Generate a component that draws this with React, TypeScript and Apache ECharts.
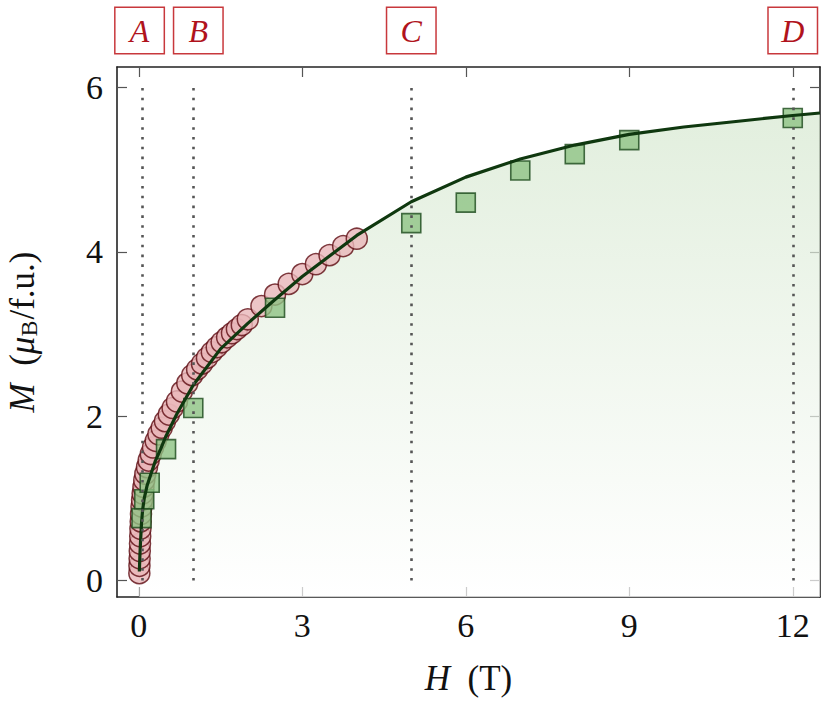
import React, { useEffect, useRef } from "react";
import * as echarts from "echarts";

// ---- data ----
const H_LINE = [0.01, 0.02, 0.03, 0.05, 0.07, 0.1, 0.15, 0.2, 0.3, 0.4, 0.5, 0.7, 1, 1.5, 2, 2.5, 3, 4, 5, 6, 7, 8, 9, 10, 11, 12, 12.5];
const M_LINE = [0.11, 0.3, 0.45, 0.7, 0.86, 1.0, 1.15, 1.25, 1.45, 1.6, 1.76, 2.03, 2.38, 2.82, 3.13, 3.42, 3.7, 4.2, 4.61, 4.91, 5.13, 5.3, 5.43, 5.52, 5.59, 5.66, 5.69];

const H_CIRCLE = [0.01, 0.012, 0.015, 0.018, 0.022, 0.026, 0.03, 0.035, 0.04, 0.05, 0.06, 0.07, 0.085, 0.1, 0.12, 0.15, 0.18, 0.22, 0.26, 0.31, 0.36, 0.42, 0.48, 0.55, 0.62, 0.7, 0.79, 0.89, 0.98, 1.07, 1.16, 1.25, 1.34, 1.43, 1.52, 1.62, 1.71, 1.8, 1.89, 2.0, 2.25, 2.5, 2.75, 3.0, 3.25, 3.5, 3.75, 4.0];
const M_CIRCLE = [0.09, 0.18, 0.27, 0.36, 0.45, 0.54, 0.63, 0.72, 0.81, 0.9, 0.98, 1.06, 1.14, 1.22, 1.3, 1.38, 1.46, 1.54, 1.62, 1.7, 1.78, 1.86, 1.94, 2.02, 2.1, 2.18, 2.3, 2.4, 2.5, 2.57, 2.64, 2.71, 2.78, 2.84, 2.9, 2.96, 3.01, 3.06, 3.11, 3.18, 3.34, 3.48, 3.61, 3.73, 3.85, 3.96, 4.07, 4.16];

const H_SQUARE = [0.05, 0.1, 0.2, 0.5, 1, 2.5, 5, 6, 7, 8, 9, 12];
const M_SQUARE = [0.76, 0.99, 1.19, 1.6, 2.1, 3.32, 4.35, 4.6, 4.99, 5.19, 5.36, 5.63];

const MARKER_NAMES = ["A", "B", "C", "D"];
const MARKER_H = [0.06, 1, 5, 12];
const MARKER_M_RANGE = [0, 6];

const X_TICKS = [0, 3, 6, 9, 12];
const Y_TICKS = [0, 2, 4, 6];
const X_RANGE = [-0.4, 12.5];
const Y_RANGE = [-0.2, 6.25];

const FONT = "'Liberation Serif', 'DejaVu Serif', serif";
const LABEL_SHIFT = [-2.5, 5, 0, 0];

export default function App() {
  const ref = useRef<HTMLDivElement>(null);
  useEffect(() => {
    if (!ref.current) return;
    const chart = echarts.init(ref.current, null, { renderer: "svg" });
    const zip = (a: number[], b: number[]) => a.map((v, i) => [v, b[i]]);
    const lineData = zip(H_LINE, M_LINE);

    const axisLine = { show: true, onZero: false, lineStyle: { color: "#222", width: 1.6 } };
    const tick = { show: true, inside: true, length: 10, lineStyle: { color: "#555", width: 1.2 } };

    const markData = MARKER_H.map((h, i) => [
      { coord: [h, MARKER_M_RANGE[0]] },
      {
        coord: [h, MARKER_M_RANGE[1]],
        label: {
          show: true,
          position: "end",
          formatter: MARKER_NAMES[i],
          offset: [LABEL_SHIFT[i], 0],
        },
      },
    ]);

    chart.setOption({
      animation: false,
      backgroundColor: "#fff",
      grid: { left: 117, right: 10, top: 67, bottom: 106, containLabel: false, outerBoundsMode: "none" },
      xAxis: [
        {
          type: "value",
          min: X_RANGE[0],
          max: X_RANGE[1],
          name: "{i|H}  (T)",
          nameLocation: "middle",
          nameGap: 64,
          nameTextStyle: {
            fontFamily: FONT,
            fontSize: 35,
            color: "#111",
            rich: { i: { fontFamily: FONT, fontSize: 35, fontStyle: "italic", color: "#111" } },
          },
          axisLine,
          axisTick: { ...tick, customValues: X_TICKS },
          axisLabel: {
            customValues: X_TICKS,
            fontFamily: FONT,
            fontSize: 34,
            color: "#111",
            margin: 11,
          },
          splitLine: { show: false },
        },
        {
          type: "value",
          position: "top",
          min: X_RANGE[0],
          max: X_RANGE[1],
          axisLine,
          axisTick: { ...tick, customValues: X_TICKS },
          axisLabel: { show: false },
          splitLine: { show: false },
        },
      ],
      yAxis: [
        {
          type: "value",
          min: Y_RANGE[0],
          max: Y_RANGE[1],
          name: "{i|M}  ({i|μ}{s|B}/f.u.)",
          nameLocation: "middle",
          nameGap: 76,
          nameRotate: 90,
          nameTextStyle: {
            fontFamily: FONT,
            fontSize: 35,
            color: "#111",
            rich: {
              i: { fontFamily: FONT, fontSize: 35, fontStyle: "italic", color: "#111" },
              s: { fontFamily: FONT, fontSize: 24, color: "#111", padding: [14, 1, 0, 0] },
            },
          },
          axisLine,
          axisTick: { ...tick, customValues: Y_TICKS },
          axisLabel: {
            customValues: Y_TICKS,
            fontFamily: FONT,
            fontSize: 34,
            color: "#111",
            margin: 14,
          },
          splitLine: { show: false },
        },
        {
          type: "value",
          position: "right",
          min: Y_RANGE[0],
          max: Y_RANGE[1],
          axisLine,
          axisTick: { ...tick, customValues: Y_TICKS },
          axisLabel: { show: false },
          splitLine: { show: false },
        },
      ],
      series: [
        {
          name: "area",
          type: "line",
          data: lineData,
          showSymbol: false,
          symbol: "none",
          lineStyle: { width: 0, opacity: 0 },
          z: 1,
          areaStyle: {
            origin: "start",
            color: new echarts.graphic.LinearGradient(0, 0, 0, 1, [
              { offset: 0, color: "#d6e8d0" },
              { offset: 1, color: "#ffffff" },
            ]),
          },
        },
        {
          name: "circles",
          type: "scatter",
          data: zip(H_CIRCLE, M_CIRCLE),
          symbol: "circle",
          symbolSize: 21,
          z: 2,
          itemStyle: { color: "#e8b6b9", borderColor: "#5e0b12", borderWidth: 1.5 },
          markLine: {
            silent: true,
            symbol: "none",
            lineStyle: { color: "#555", width: 2.6, type: [2.6, 7.2], cap: "butt" },
            label: {
              show: true,
              position: "end",
              distance: 57,
              fontFamily: FONT,
              fontSize: 32,
              fontStyle: "italic",
              color: "#b0131c",
              backgroundColor: "#fff",
              borderColor: "#c8383c",
              borderWidth: 1.5,
              width: 48,
              height: 45,
              lineHeight: 45,
              align: "center",
              verticalAlign: "middle",
            },
            emphasis: { disabled: true },
            data: markData,
          },
        },
        {
          name: "squares",
          type: "scatter",
          data: zip(H_SQUARE, M_SQUARE),
          symbol: "rect",
          symbolSize: 19,
          z: 3,
          itemStyle: { color: "#8fc385", borderColor: "#1b4a1b", borderWidth: 1.6 },
        },
        {
          name: "curve",
          type: "line",
          data: lineData,
          showSymbol: false,
          symbol: "none",
          z: 4,
          lineStyle: { color: "#0f380f", width: 3.2 },
        },
      ],
    });
    return () => chart.dispose();
  }, []);
  return <div ref={ref} style={{ width: 830, height: 703, position: "absolute", left: 0, top: 0 }} />;
}
